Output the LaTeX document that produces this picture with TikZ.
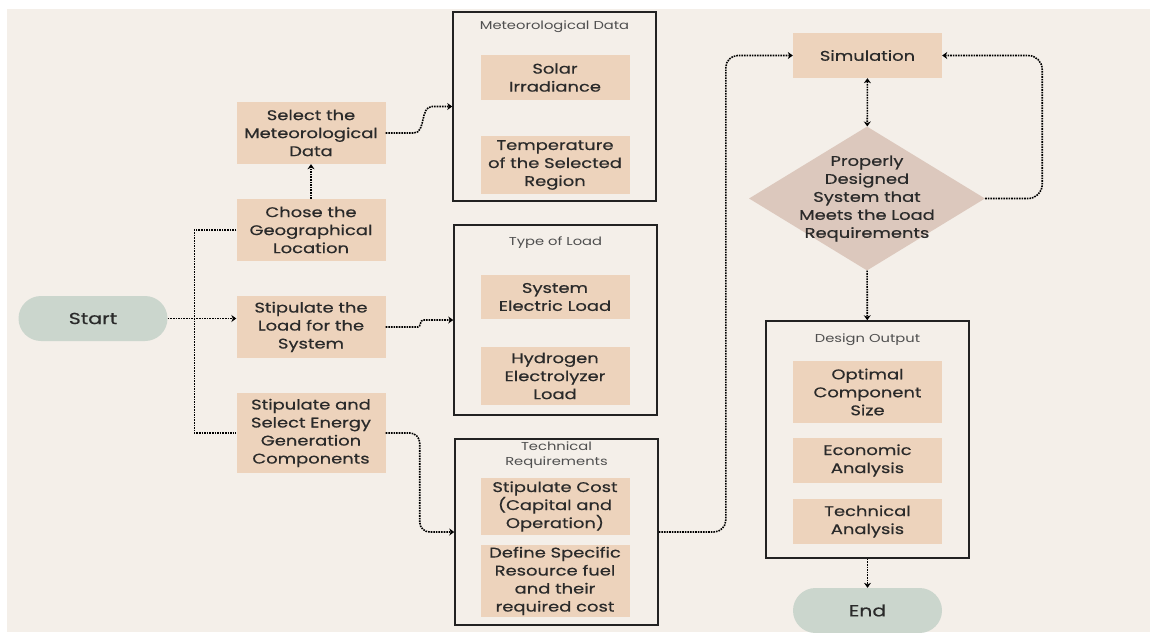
\documentclass[tikz,border=0pt]{standalone}
\usepackage{fontspec}
\setmainfont{Poppins}[FakeStretch=1.28, FakeBold=0.5]
\newfontfamily\ttlfont{Poppins}[FakeStretch=1.28]
\usepackage{xcolor}
\usetikzlibrary{positioning, shapes.geometric, shapes.misc, arrows.meta, calc}
\definecolor{paper}{HTML}{F4EFE9}
\definecolor{peach}{HTML}{EDD3BC}
\definecolor{sage}{HTML}{CBD6CD}
\definecolor{rose}{HTML}{DCC8BD}
\definecolor{ink}{HTML}{2A2A2A}
\definecolor{frame}{HTML}{222222}
\definecolor{soft}{HTML}{4F4F4F}

\begin{document}
\begin{tikzpicture}[
  x=1pt, y=-1pt,
  font=\fontsize{14}{18}\selectfont, text=ink,
  task/.style={fill=peach, minimum width=149pt, align=center, inner sep=0pt},
  term/.style={rounded rectangle, fill=sage, minimum width=149pt, minimum height=45pt, inner sep=0pt, font=\fontsize{16}{18}\selectfont},
  grp/.style={draw=frame, line width=1.6pt, minimum width=203pt, inner sep=0pt},
  ttl/.style={text=soft, align=center, font=\ttlfont\fontsize{11.5}{15}\selectfont},
  dec/.style={diamond, fill=rose, minimum width=236pt, minimum height=144pt, inner sep=0pt},
  flow/.style={densely dotted, line width=1.6pt, -{Stealth[length=5pt, width=7pt]}},
  link/.style={densely dotted, line width=1.6pt}
]
  \useasboundingbox (0,0) rectangle (1150,632);
  \fill[paper] (7,9) rectangle (1150,632);

  % left column
  \node[term] (start) at (93,318.5) {Start};
  \node[task, minimum height=62pt] (metsel) at (311,133) {Select the\\Meteorological\\Data};
  \node[task, minimum height=62pt] (geo) at (311,230) {Chose the\\Geographical\\Location};
  \node[task, minimum height=62pt] (load) at (311,327) {Stipulate the\\Load for the\\System};
  \node[task, minimum height=80pt] (gen) at (311,433) {Stipulate and\\Select Energy\\Generation\\Components};

  % input groups
  \node[grp, minimum height=189pt] (met) at (554.5,106.5) {};
  \node[ttl] (met-t) at ($(met.north)+(0,15)$) {Meteorological Data};
  \node[task, minimum height=45pt] (solar) at (555,77.5) {Solar\\Irradiance};
  \node[task, minimum height=58pt] (temp) at (555,165) {Temperature\\of the Selected\\Region};

  \node[grp, minimum height=190pt] (ltype) at (555.5,320) {};
  \node[ttl] (ltype-t) at ($(ltype.north)+(0,18)$) {Type of Load};
  \node[task, minimum height=44pt] (elec) at (555,297) {System\\Electric Load};
  \node[task, minimum height=58pt] (hydro) at (555,376) {Hydrogen\\Electrolyzer\\Load};

  \node[grp, minimum height=186pt] (tech) at (556.5,532) {};
  \node[ttl] (tech-t) at ($(tech.north)+(0,16.5)$) {Technical\\Requirements};
  \node[task, minimum height=57pt] (cost) at (555,506.5) {Stipulate Cost\\(Capital and\\Operation)};
  \node[task, minimum height=72pt] (fuel) at (555,581) {Define Specific\\Resource fuel\\and their\\required cost};

  % right column
  \node[task, minimum height=45pt] (sim) at (867.5,55.5) {Simulation};
  \node[dec, label={[align=center]center:{Properly\\Designed\\System that\\Meets the Load\\Requirements}}] (chk) at (867,198.5) {};

  \node[grp, minimum height=237pt] (out) at (867.5,439.5) {};
  \node[ttl] (out-t) at ($(out.north)+(0,19)$) {Design Output};
  \node[task, minimum height=62pt] (opt) at (867.5,392) {Optimal\\Component\\Size};
  \node[task, minimum height=45pt] (eco) at (867.5,460.5) {Economic\\Analysis};
  \node[task, minimum height=45pt] (tan) at (867.5,521.5) {Technical\\Analysis};
  \node[term] (end) at (867.5,610.5) {End};

  % connectors
  \draw[flow] (start.east) -- (start.east -| load.west);
  \draw[link] (geo.west) -- ++(-42,0) |- (gen.west);
  \draw[flow] (geo) -- (metsel);
  \draw[flow] (metsel.east) -- ++(28,0) to[out=0, in=180] ($(met.west)+(-20,0)$) -- (met.west);
  \draw[flow] (load.east) -- ++(32,0) to[out=0, in=180] ($(ltype.west)+(-30,0)$) -- (ltype.west);
  \draw[flow, rounded corners=10pt] (gen.east) -- ++(34,0) |- (tech.west);
  \draw[flow, rounded corners=12pt] (tech.east) -- ++(67,0) |- (sim.west);
  \draw[densely dotted, line width=1.6pt, {Stealth[length=5pt, width=7pt]}-{Stealth[length=5pt, width=7pt]}] (sim) -- (chk);
  \draw[flow, rounded corners=14pt] (chk.east) -- ++(57,0) |- (sim.east);
  \draw[flow] (chk) -- (out);
  \draw[flow] (out) -- (end);
\end{tikzpicture}
\end{document}
